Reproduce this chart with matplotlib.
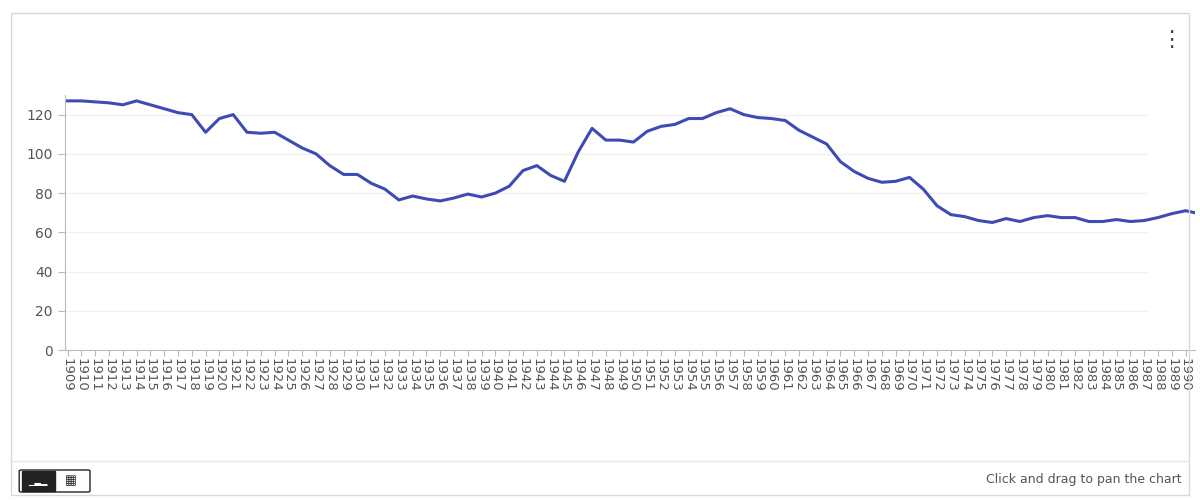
import numpy as np
import matplotlib
matplotlib.use('Agg')
import matplotlib.pyplot as plt
from matplotlib.patches import FancyBboxPatch, Rectangle

years = list(range(1909, 1992))
values = [127, 127, 126.5, 126, 125, 127, 125, 123, 121, 120,
          111, 118, 120, 111, 110.5, 111, 107, 103, 100, 94,
          89.5, 89.5, 85, 82, 76.5, 78.5, 77, 76, 77.5, 79.5,
          78, 80, 83.5, 91.5, 94, 89, 86, 101, 113, 107,
          107, 106, 111.5, 114, 115, 118, 118, 121, 123, 120,
          118.5, 118, 117, 112, 108.5, 105, 96, 91, 87.5, 85.5,
          86, 88, 82, 73.5, 69, 68, 66, 65, 67, 65.5,
          67.5, 68.5, 67.5, 67.5, 65.5, 65.5, 66.5, 65.5, 66, 67.5,
          69.5, 71, 69.5]
yticks = [0, 20, 40, 60, 80, 100, 120]

fig = plt.figure(figsize=(12, 5), dpi=100)
# card frame
fig.patches.append(Rectangle((0.009, 0.01), 0.982, 0.965, transform=fig.transFigure,
                             fill=False, edgecolor='#d8d8d8', lw=1))
fig.add_artist(plt.Line2D([0.009, 0.991], [0.078, 0.078], color='#e6e6e6', lw=1))

ax = fig.add_axes([0.054, 0.30, 0.942, 0.51])
ax.plot(years, values, color='#3f4bb5', lw=2.2)
ax.set_xlim(1908.8, 1990.7)
ax.set_ylim(0, 130)
ax.set_yticks(yticks)
ax.set_xticks(years[:-1])
ax.set_xticklabels([str(y) for y in years[:-1]], rotation=-90, fontsize=9.5, color='#555555')
ax.tick_params(axis='y', labelsize=10, colors='#555555', length=5, color='#bbbbbb')
ax.tick_params(axis='x', length=4, color='#bbbbbb', pad=2)
for y in yticks[1:]:
    ax.axhline(y, xmax=0.957, color='#f0f0f0', lw=1, zorder=0)
for s in ['top', 'right']:
    ax.spines[s].set_visible(False)
ax.spines['left'].set_color('#bbbbbb')
ax.spines['bottom'].set_color('#bbbbbb')

# UI bits
fig.text(0.976, 0.92, '\u22ee', fontsize=16, color='#444444', ha='center', va='center')
fig.text(0.985, 0.04, 'Click and drag to pan the chart', fontsize=9, color='#555555',
         ha='right', va='center')
fig.patches.append(FancyBboxPatch((0.018, 0.018), 0.055, 0.04, boxstyle='round,pad=0.002',
                                  transform=fig.transFigure, fill=False, edgecolor='#222222', lw=1))
fig.patches.append(Rectangle((0.018, 0.018), 0.0275, 0.04, transform=fig.transFigure,
                             facecolor='#222222', edgecolor='#222222'))
fig.text(0.0317, 0.038, '\u2581\u2583\u2582', fontsize=6, color='white', ha='center', va='center')
fig.text(0.059, 0.038, '\u25a6', fontsize=9, color='#222222', ha='center', va='center')

fig.savefig('out.png', dpi=100, facecolor='white')
